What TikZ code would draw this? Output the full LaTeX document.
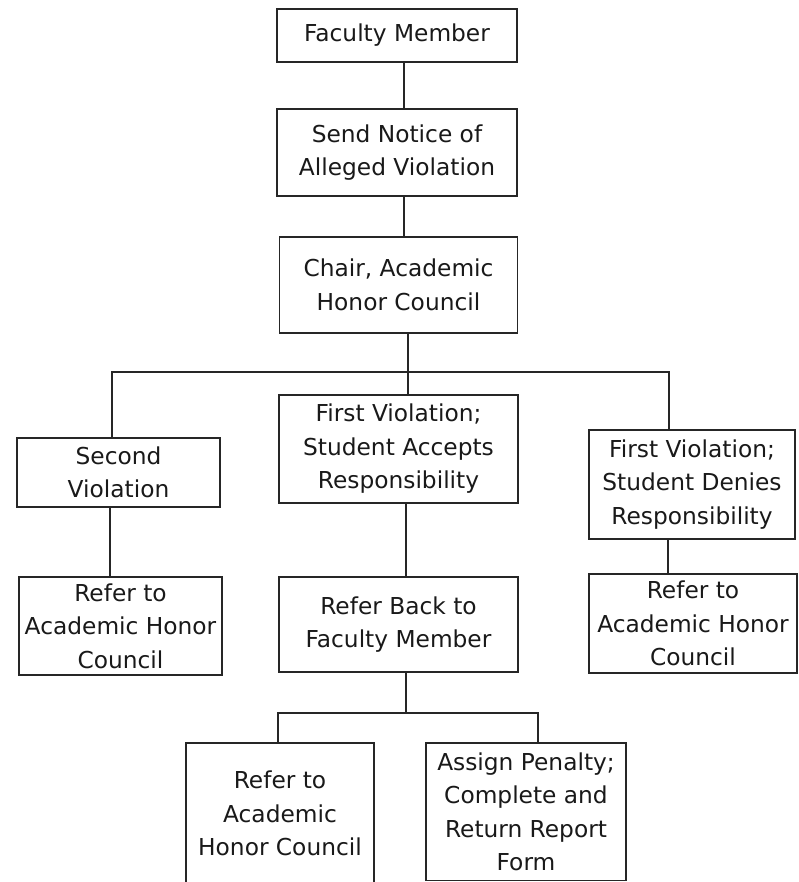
\documentclass[tikz,border=0pt]{standalone}
\usepackage{fontspec}
\setmainfont{DejaVu Sans}
\usepackage[dvipsnames]{xcolor}

\begin{document}
\begin{tikzpicture}[x=1pt,y=1pt,line width=1.5pt,draw=black!85,node distance=1cm,main node/.style={rectangle,draw=black!85,text=black!90,inner sep=0pt,align=center,font=\fontsize{23.3pt}{33.5pt}\selectfont}]
            \useasboundingbox (0,0) rectangle (799,-882);

            \node[main node,minimum width=240pt,minimum height=53pt] (1) at (397,-35.5){Faculty Member};
            \node[main node,minimum width=240pt,minimum height=87pt] (2) [node distance=117pt, below of = 1]{Send Notice of\\Alleged Violation};
            \node[main node,minimum width=238pt,minimum height=96pt] (3) [node distance=132.5pt, below of = 2, xshift = 1.5pt]{Chair, Academic\\Honor Council};

            \node[main node,minimum width=239pt,minimum height=108pt] (4) [node distance=164pt, below of = 3]{First Violation;\\Student Accepts\\Responsibility};
            \node[main node,minimum width=203pt,minimum height=69pt] (5) [node distance=280pt, left of = 4, yshift = -23.5pt]{Second\\Violation};
            \node[main node,minimum width=206pt,minimum height=109pt] (6) [node distance=293.5pt, right of = 4, yshift = -35.5pt]{First Violation;\\Student Denies\\Responsibility};

            \node[main node,minimum width=203pt,minimum height=98pt] (7) [node distance=153.5pt, below of = 5, xshift = 2pt]{Refer to\\Academic Honor\\Council};
            \node[main node,minimum width=239pt,minimum height=95pt] (8) [node distance=175.5pt, below of = 4]{Refer Back to\\Faculty Member};
            \node[main node,minimum width=208pt,minimum height=99pt] (9) [node distance=139pt, below of = 6, xshift = 1pt]{Refer to\\Academic Honor\\Council};

            \node[main node,minimum width=188pt,minimum height=141pt] (10) [node distance=189pt, below of = 8, xshift = -118.5pt]{Refer to\\Academic\\Honor Council};
            \node[main node,minimum width=200pt,minimum height=137.5pt] (11) [node distance=187.25pt, below of = 8, xshift = 127.5pt]{Assign Penalty;\\Complete and\\Return Report\\Form};

            \coordinate (j1) at ([xshift=9.5pt,yshift=-38pt]3.south);
            \coordinate (j2) at ([xshift=7.5pt,yshift=-40pt]8.south);

            \path[draw=black!85]
                ([xshift=7pt]1.south) edge ([xshift=7pt]2.north)
                ([xshift=7pt]2.south) edge ([xshift=5.5pt]3.north)
                ([xshift=9.5pt]3.south) edge ([xshift=9.5pt]4.north)
                ([xshift=-8.5pt]5.south) edge ([xshift=-10.5pt]7.north)
                ([xshift=7.5pt]4.south) edge ([xshift=7.5pt]8.north)
                ([xshift=-24pt]6.south) edge ([xshift=-25pt]9.north)
                ([xshift=7.5pt]8.south) edge (j2)
                ;
            \draw[black!85] ([xshift=-6.5pt]5.north) |- (j1) -| ([xshift=-23pt]6.north);
            \draw[black!85] ([xshift=-2pt]10.north) |- (j2) -| ([xshift=12pt]11.north);
        \end{tikzpicture}
\end{document}
